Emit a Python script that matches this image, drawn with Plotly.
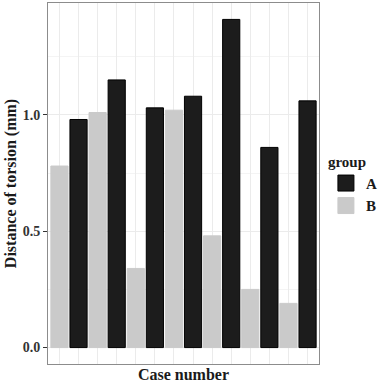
import plotly.graph_objects as go

cases = list(range(1, 15))
groups = ["B", "A", "B", "A", "B", "A", "B", "A", "B", "A", "B", "A", "B", "A"]
values = [0.78, 0.98, 1.01, 1.15, 0.34, 1.03, 1.02, 1.08, 0.48, 1.41, 0.25, 0.86, 0.19, 1.06]

colors = {"A": "#1c1c1c", "B": "#cacaca"}
lines = {"A": "#000000", "B": "#cacaca"}

FONT = "Liberation Serif, Times New Roman, serif"

fig = go.Figure()
for g in ["A", "B"]:
    xs = [c for c, gg in zip(cases, groups) if gg == g]
    ys = [v for v, gg in zip(values, groups) if gg == g]
    fig.add_trace(go.Bar(x=xs, y=ys, name=g, width=0.9,
                         marker=dict(color=colors[g], line=dict(color=lines[g], width=1)),
                         showlegend=False))
    fig.add_trace(go.Scatter(x=[None], y=[None], mode="markers", name=g,
                             marker=dict(symbol="square", size=16, color=colors[g],
                                         line=dict(color=lines[g], width=1))))

ymax = max(values)
pad = ymax * 0.05
fig.update_layout(
    width=383, height=385,
    margin=dict(l=48, r=64, t=3, b=21, autoexpand=False),
    paper_bgcolor="white", plot_bgcolor="white",
    barmode="overlay",
    font=dict(family=FONT, size=13, color="#1a1a1a", weight="bold"),
    legend=dict(title=dict(text="group", font=dict(size=15, weight="bold")),
                font=dict(size=15, weight="bold"),
                xref="container", yref="container",
                x=0.851, xanchor="left", y=0.52, yanchor="middle",
                tracegroupgap=0,
                bgcolor="rgba(0,0,0,0)", itemsizing="trace"),
    xaxis=dict(range=[0.4, 14.6], tickmode="linear", tick0=1, dtick=1,
               showticklabels=False, ticks="", automargin=False,
               showgrid=True, gridcolor="#ebebeb", gridwidth=1,
               showline=True, linecolor="#8c8c8c", linewidth=1, mirror=True,
               zeroline=False,
               title=dict(text="Case number", font=dict(size=16, weight="bold"), standoff=4)),
    yaxis=dict(range=[-pad, ymax + pad], tickvals=[0, 0.5, 1.0], tickformat=".1f",
               ticks="outside", ticklen=4, tickcolor="#333333", tickwidth=1,
               tickfont=dict(size=14, color="#333333", weight="bold"), automargin=False,
               showgrid=True, gridcolor="#ebebeb", gridwidth=1,
               minor=dict(showgrid=True, tickvals=[0.25, 0.75, 1.25], gridcolor="#f4f4f4", gridwidth=1),
               showline=True, linecolor="#8c8c8c", linewidth=1, mirror=True,
               zeroline=False,
               title=dict(text="Distance of torsion (mm)", font=dict(size=16, weight="bold"), standoff=2)),
)

fig.write_html("out.html", config={"displayModeBar": False},
               post_script="document.body.style.margin='0';document.body.style.overflow='hidden';")
